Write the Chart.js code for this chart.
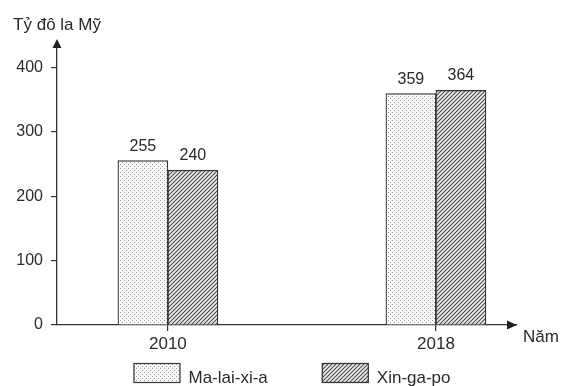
<!DOCTYPE html>
<html><head><meta charset="utf-8">
<script src="https://cdn.jsdelivr.net/npm/chart.js@4.4.1/dist/chart.umd.min.js"></script>
<style>html,body{margin:0;padding:0;background:#fff;}canvas{display:block;}</style>
</head><body>
<canvas id="c" width="561" height="386"></canvas>
<script>
// ---- data ----
const years = [2010, 2018];
const malaysia = [255, 359];
const singapore = [240, 364];
const seriesNames = ['Ma-lai-xi-a', 'Xin-ga-po'];
const yTicks = [0, 100, 200, 300, 400];
const yTitle = 'Tỷ đô la Mỹ';
const xTitle = 'Năm';

const FONT = '"Liberation Sans", Arial, sans-serif';
const INK = '#2a2a2a';

function dotPattern() {
  const t = document.createElement('canvas'); t.width = 4; t.height = 4;
  const g = t.getContext('2d');
  g.fillStyle = '#fbfbfb'; g.fillRect(0, 0, 4, 4);
  g.fillStyle = '#9a9a9a'; g.fillRect(0, 0, 1, 1); g.fillRect(2, 2, 1, 1);
  return g.createPattern(t, 'repeat');
}
function hatchPattern() {
  const t = document.createElement('canvas'); t.width = 4; t.height = 4;
  const g = t.getContext('2d');
  g.fillStyle = '#eeeeee'; g.fillRect(0, 0, 4, 4);
  g.strokeStyle = '#4a4a4a'; g.lineWidth = 1.1;
  g.beginPath();
  g.moveTo(0, 4); g.lineTo(4, 0);
  g.moveTo(-1, 1); g.lineTo(1, -1);
  g.moveTo(3, 5); g.lineTo(5, 3);
  g.stroke();
  return g.createPattern(t, 'repeat');
}
const fills = [dotPattern(), hatchPattern()];

const toXY = arr => arr.map((v, i) => ({ x: years[i], y: v }));

const decor = {
  id: 'decor',
  afterDraw(chart) {
    const { ctx, chartArea: a } = chart;
    ctx.save();
    // axis arrows
    ctx.fillStyle = '#222';
    ctx.beginPath();
    ctx.moveTo(a.left, a.top - 5);
    ctx.lineTo(a.left - 4.5, a.top + 4);
    ctx.lineTo(a.left + 4.5, a.top + 4);
    ctx.closePath(); ctx.fill();
    ctx.beginPath();
    ctx.moveTo(a.right, a.bottom);
    ctx.lineTo(a.right - 10, a.bottom - 4.5);
    ctx.lineTo(a.right - 10, a.bottom + 4.5);
    ctx.closePath(); ctx.fill();
    // axis titles
    ctx.fillStyle = INK;
    ctx.font = '17px ' + FONT;
    ctx.textBaseline = 'alphabetic';
    ctx.textAlign = 'center';
    ctx.fillText(yTitle, a.left, 30);
    ctx.textAlign = 'left';
    ctx.fillText(xTitle, a.right + 6, a.bottom + 17);
    // value labels
    ctx.font = '16px ' + FONT;
    ctx.textAlign = 'center';
    chart.data.datasets.forEach((ds, di) => {
      chart.getDatasetMeta(di).data.forEach((el, i) => {
        ctx.fillText(String(ds.data[i].y), el.x, el.y - 10);
      });
    });
    // legend
    ctx.font = '17px ' + FONT;
    const boxW = 47, boxH = 20, gapT = 8, gapItem = 54;
    const widths = chart.data.datasets.map(ds => boxW + gapT + ctx.measureText(ds.label).width);
    const total = widths.reduce((s, w) => s + w, 0) + gapItem * (widths.length - 1);
    let x = (a.left + a.right) / 2 + 5 - total / 2;
    const by = 363;
    chart.data.datasets.forEach((ds, di) => {
      ctx.fillStyle = ds.backgroundColor;
      ctx.fillRect(x, by, boxW, boxH);
      ctx.strokeStyle = '#333'; ctx.lineWidth = 1.2;
      ctx.strokeRect(x + 0.5, by + 0.5, boxW - 1, boxH - 1);
      ctx.fillStyle = INK;
      ctx.textAlign = 'left';
      ctx.fillText(ds.label, x + boxW + gapT, by + boxH);
      x += widths[di] + gapItem;
    });
    ctx.restore();
  }
};

new Chart(document.getElementById('c'), {
  type: 'bar',
  data: {
    datasets: [
      { label: seriesNames[0], data: toXY(malaysia), backgroundColor: fills[0], borderColor: '#333', borderWidth: 1.2 },
      { label: seriesNames[1], data: toXY(singapore), backgroundColor: fills[1], borderColor: '#333', borderWidth: 1.2 }
    ]
  },
  options: {
    responsive: false,
    animation: false,
    devicePixelRatio: 1,
    barThickness: 50,
    layout: { padding: { top: 44, right: 44, left: 0, bottom: 0 } },
    plugins: { legend: { display: false }, tooltip: { enabled: false } },
    scales: {
      x: {
        type: 'linear',
        offset: false,
        min: 2006.69, max: 2020.42,
        afterFit(s) { s.height = 61; },
        afterBuildTicks(s) { s.ticks = years.map(v => ({ value: v })); },
        grid: { offset: false, drawOnChartArea: false, drawTicks: true, tickLength: 6, color: '#333', lineWidth: 1.2 },
        border: { display: true, color: '#333', width: 1.3 },
        ticks: { callback: v => String(v), color: INK, font: { family: FONT, size: 17 }, padding: 3, maxRotation: 0 }
      },
      y: {
        min: 0, max: 436,
        afterFit(s) { s.width = 57; },
        afterBuildTicks(s) { s.ticks = yTicks.map(v => ({ value: v })); },
        grid: { drawOnChartArea: false, drawTicks: true, tickLength: 6, color: '#333', lineWidth: 1.2 },
        border: { display: true, color: '#333', width: 1.3 },
        ticks: { color: INK, font: { family: FONT, size: 16 }, padding: 8 }
      }
    }
  },
  plugins: [decor]
});
</script>
</body></html>
